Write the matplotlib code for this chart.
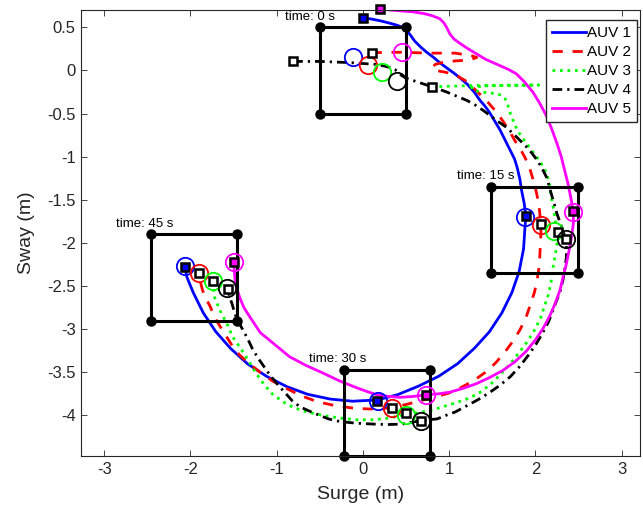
import numpy as np
import matplotlib
matplotlib.use("Agg")
import matplotlib.pyplot as plt
from matplotlib.ticker import FuncFormatter

plt.rcParams['font.family'] = ['Liberation Sans', 'DejaVu Sans']

names = ['AUV 1', 'AUV 2', 'AUV 3', 'AUV 4', 'AUV 5']
colors = ['#0000ff', '#ff0000', '#00ff00', '#000000', '#ff00ff']

# trajectories (m)
auv1_x = [0.00, 0.10, 0.20, 0.30, 0.39, 0.46, 0.51, 0.55, 0.60, 0.67, 0.74, 0.82, 0.89, 0.97, 1.04, 1.13,
          1.21, 1.29, 1.36, 1.42, 1.47, 1.53, 1.59, 1.65, 1.71, 1.76, 1.79, 1.82, 1.84, 1.87, 1.89,
          1.88, 1.863, 1.812, 1.728, 1.612, 1.467, 1.294, 1.098, 0.88, 0.645, 0.40, 0.17,
          -0.12, -0.38, -0.64, -0.885, -1.12, -1.34, -1.534, -1.707, -1.852, -1.968, -2.04, -2.065]
auv1_y = [0.61, 0.595, 0.575, 0.55, 0.525, 0.50, 0.46, 0.41, 0.34, 0.27, 0.21, 0.15, 0.09, 0.03, -0.02, -0.09,
          -0.16, -0.25, -0.35, -0.42, -0.49, -0.59, -0.69, -0.81, -0.93, -1.03, -1.13, -1.26, -1.39, -1.54, -1.69,
          -1.81, -2.07, -2.33, -2.575, -2.81, -3.03, -3.22, -3.40, -3.545, -3.66, -3.76, -3.82,
          -3.835, -3.81, -3.755, -3.665, -3.545, -3.40, -3.224, -3.028, -2.81, -2.575, -2.40, -2.28]

auv2_x = [0.10, 0.43, 0.78, 1.07, 1.26, 1.32, 1.24, 1.07, 0.92, 0.84, 0.80, 0.84, 0.95, 1.07, 1.19, 1.31,
          1.38, 1.45, 1.52, 1.59, 1.68, 1.76, 1.83, 1.88, 1.93, 1.96, 2.00, 2.03, 2.05, 2.06,
          2.065, 2.06, 2.055, 2.05, 2.04, 2.02, 1.99, 1.94, 1.89, 1.82, 1.74, 1.65, 1.54, 1.42, 1.28,
          1.13, 1.00, 0.86, 0.74, 0.63, 0.49, 0.34,
          0.20, 0.08, -0.04, -0.15, -0.33, -0.53, -0.72, -0.90, -1.05, -1.19, -1.32, -1.43, -1.51,
          -1.58, -1.63, -1.68, -1.73, -1.77, -1.82, -1.86, -1.885, -1.90]
auv2_y = [0.205, 0.21, 0.20, 0.20, 0.17, 0.15, 0.12, 0.11, 0.09, 0.07, 0.03, 0.00, -0.02, -0.05, -0.12, -0.23,
          -0.30, -0.37, -0.45, -0.54, -0.67, -0.81, -0.92, -1.01, -1.12, -1.22, -1.36, -1.50, -1.64, -1.78,
          -1.88, -1.97, -2.08, -2.18, -2.30, -2.43, -2.57, -2.72, -2.87, -3.01, -3.14, -3.26, -3.39, -3.50, -3.60,
          -3.68, -3.74, -3.78, -3.81, -3.84, -3.875, -3.91,
          -3.92, -3.925, -3.92, -3.91, -3.885, -3.84, -3.77, -3.68, -3.60, -3.50, -3.40, -3.30, -3.20,
          -3.09, -3.01, -2.93, -2.84, -2.74, -2.645, -2.55, -2.45, -2.35]

auv3_x = [0.80, 1.30, 2.04, 1.40, 1.26, 1.30, 1.36, 1.45, 1.55, 1.61, 1.65, 1.68, 1.71, 1.75, 1.79, 1.84,
          1.90, 1.96, 2.02, 2.08, 2.13, 2.16, 2.18, 2.21, 2.23, 2.26,
          2.255, 2.24, 2.22, 2.20, 2.18, 2.15, 2.11, 2.06, 1.99, 1.91, 1.82, 1.71, 1.59, 1.48, 1.36,
          1.27, 1.18, 1.02, 0.86, 0.74, 0.63, 0.495,
          0.40, 0.31, 0.12, -0.08, -0.27, -0.46, -0.65, -0.80, -0.93, -1.05, -1.14, -1.24, -1.33,
          -1.42, -1.51, -1.58, -1.66, -1.72, -1.74]
auv3_y = [-0.19, -0.175, -0.17, -0.18, -0.20, -0.235, -0.25, -0.26, -0.27, -0.29, -0.33, -0.40, -0.50, -0.60, -0.69, -0.77,
          -0.85, -0.93, -1.01, -1.10, -1.19, -1.30, -1.45, -1.60, -1.74, -1.875,
          -1.98, -2.08, -2.20, -2.31, -2.47, -2.60, -2.72, -2.87, -3.01, -3.14, -3.26, -3.40, -3.53, -3.64, -3.73,
          -3.78, -3.82, -3.87, -3.92, -3.95, -3.97, -3.99,
          -4.01, -4.03, -4.05, -4.05, -4.03, -4.00, -3.96, -3.91, -3.84, -3.75, -3.65, -3.51, -3.36,
          -3.22, -3.09, -2.93, -2.78, -2.63, -2.44]

auv4_x = [-0.81, -0.50, -0.15, 0.14, 0.25, 0.31, 0.37, 0.41, 0.45, 0.50, 0.62, 0.74, 0.86, 0.97, 1.09, 1.21,
          1.30, 1.39, 1.47, 1.55, 1.65, 1.74, 1.82, 1.90, 1.96, 2.02, 2.08, 2.13, 2.16, 2.19, 2.22, 2.25, 2.30, 2.35,
          2.36, 2.36, 2.35, 2.34, 2.32, 2.29, 2.25, 2.20, 2.15, 2.08, 2.01, 1.92, 1.82, 1.71, 1.59, 1.46,
          1.33, 1.20, 1.07, 0.96, 0.86, 0.76, 0.67,
          0.56, 0.46, 0.30, 0.12, -0.08, -0.27, -0.40, -0.50, -0.62, -0.73, -0.82, -0.90, -0.99, -1.08,
          -1.15, -1.22, -1.28, -1.33, -1.39, -1.46, -1.49, -1.52, -1.55, -1.57]
auv4_y = [0.104, 0.104, 0.09, 0.07, 0.05, 0.035, 0.01, -0.02, -0.06, -0.09, -0.13, -0.17, -0.21, -0.25, -0.30, -0.35,
          -0.40, -0.46, -0.52, -0.58, -0.65, -0.73, -0.81, -0.89, -0.96, -1.04, -1.14, -1.24, -1.34, -1.45, -1.55, -1.66,
          -1.80, -1.95,
          -2.05, -2.16, -2.24, -2.31, -2.43, -2.55, -2.66, -2.79, -2.92, -3.05, -3.17, -3.30, -3.43, -3.55, -3.65, -3.74,
          -3.82, -3.89, -3.96, -4.00, -4.04, -4.05, -4.06,
          -4.08, -4.10, -4.105, -4.10, -4.09, -4.07, -4.04, -4.00, -3.95, -3.90, -3.83, -3.74, -3.64, -3.53,
          -3.43, -3.33, -3.23, -3.125, -3.01, -2.89, -2.80, -2.70, -2.61, -2.53]

auv5_x = [0.20, 0.32, 0.43, 0.57, 0.70, 0.80, 0.89, 0.94, 0.97, 1.01, 1.06, 1.13, 1.22, 1.32, 1.42, 1.51,
          1.60, 1.69, 1.78, 1.87, 1.97, 2.05, 2.13, 2.19, 2.25, 2.30, 2.34, 2.38, 2.41, 2.44,
          2.44, 2.42, 2.39, 2.36, 2.32, 2.285, 2.23, 2.17, 2.09, 2.00, 1.89, 1.76, 1.62, 1.47, 1.32,
          1.18, 1.01, 0.87, 0.73,
          0.58, 0.43, 0.30, 0.16, 0.04, -0.07, -0.27, -0.46, -0.66, -0.85, -1.02, -1.19, -1.31,
          -1.38, -1.43, -1.465, -1.485, -1.50]
auv5_y = [0.714, 0.70, 0.69, 0.68, 0.66, 0.635, 0.60, 0.55, 0.50, 0.42, 0.36, 0.31, 0.25, 0.19, 0.13, 0.09,
          0.05, 0.01, -0.04, -0.13, -0.25, -0.38, -0.53, -0.68, -0.845, -1.00, -1.16, -1.32, -1.47, -1.635,
          -1.78, -1.93, -2.09, -2.24, -2.40, -2.55, -2.70, -2.84, -2.99, -3.125, -3.26, -3.38, -3.48, -3.56, -3.63,
          -3.68, -3.73, -3.75, -3.76,
          -3.78, -3.79, -3.78, -3.76, -3.72, -3.68, -3.60, -3.51, -3.42, -3.32, -3.18, -3.04, -2.86,
          -2.75, -2.63, -2.52, -2.41, -2.22]

traj_x = [auv1_x, auv2_x, auv3_x, auv4_x, auv5_x]
traj_y = [auv1_y, auv2_y, auv3_y, auv4_y, auv5_y]

# snapshots
times = [0, 15, 30, 45]
box_x0 = [-0.5, 1.49, -0.22, -2.46]
box_y0 = [-0.5, -2.35, -4.47, -2.90]
box_size = 1.0

# desired formation slots (circles), one row per snapshot
goal_x = [[-0.12, 0.055, 0.22, 0.39, 0.45],
          [1.88, 2.06, 2.22, 2.36, 2.44],
          [0.17, 0.34, 0.50, 0.67, 0.73],
          [-2.065, -1.90, -1.74, -1.58, -1.50]]
goal_y = [[0.15, 0.06, -0.02, -0.12, 0.21],
          [-1.70, -1.79, -1.86, -1.96, -1.64],
          [-3.83, -3.91, -3.99, -4.06, -3.76],
          [-2.27, -2.35, -2.44, -2.52, -2.22]]
# vehicle positions (squares)
pos_x = [[0.00, 0.10, 0.80, -0.81, 0.20],
         [1.89, 2.06, 2.26, 2.35, 2.44],
         [0.166, 0.34, 0.495, 0.67, 0.73],
         [-2.065, -1.90, -1.74, -1.57, -1.50]]
pos_y = [[0.61, 0.205, -0.19, 0.104, 0.714],
         [-1.69, -1.78, -1.875, -1.95, -1.635],
         [-3.83, -3.91, -3.97, -4.06, -3.76],
         [-2.28, -2.35, -2.44, -2.53, -2.22]]
square_face = ['#0000ff', 'white', 'white', 'white', '#ff00ff']

styles = [dict(linestyle='-'),
          dict(dashes=(3.7, 3.5)),
          dict(dashes=(1.0, 1.7)),
          dict(dashes=(3.5, 1.8, 0.8, 1.8)),
          dict(linestyle='-')]

fig = plt.figure(figsize=(6.43, 5.08), dpi=100)
ax = fig.add_axes([81.4/643, 52/508, 558.3/643, 446/508])

for i in range(5):
    ax.plot(traj_x[i], traj_y[i], color=colors[i], lw=2, label=names[i], **styles[i])

for k, t in enumerate(times):
    bx = [box_x0[k], box_x0[k] + box_size, box_x0[k] + box_size, box_x0[k], box_x0[k]]
    by = [box_y0[k], box_y0[k], box_y0[k] + box_size, box_y0[k] + box_size, box_y0[k]]
    ax.plot(bx, by, color='k', lw=2.2, clip_on=False)
    ax.plot(bx[:4], by[:4], 'o', color='k', ms=6.5, clip_on=False)
    ax.text(box_x0[k] - 0.40, box_y0[k] + box_size + 0.12, 'time: %d s' % t,
            fontsize=9.5, va='center', ha='left')
    for i in range(5):
        ax.plot(goal_x[k][i], goal_y[k][i], 'o', mfc='none', mec=colors[i], ms=12.5, mew=1.3, clip_on=False)
        ax.plot(pos_x[k][i], pos_y[k][i], 's', mfc=square_face[i], mec='k', ms=6, mew=1.8, clip_on=False)

ax.set_xlim(-3.265, 3.21)
ax.set_ylim(-4.47, 0.70)
ax.set_xticks(range(-3, 4))
ax.set_yticks(np.arange(-4, 0.51, 0.5))
fmt = FuncFormatter(lambda v, p: '%g' % round(v, 2))
ax.xaxis.set_major_formatter(fmt)
ax.yaxis.set_major_formatter(fmt)
ax.tick_params(direction='in', top=True, right=True, length=4, width=0.6,
               colors='0.15', labelsize=12, pad=4)
for s in ax.spines.values():
    s.set_color('0.15')
    s.set_linewidth(0.8)
ax.set_xlabel('Surge (m)', fontsize=14, color='0.15', labelpad=7)
ax.set_ylabel('Sway (m)', fontsize=14, color='0.15', labelpad=9)

ax.legend(loc='upper right', bbox_to_anchor=(0.9955, 0.9776), borderaxespad=0, fontsize=11,
          handlelength=2.2, handletextpad=0.1, labelspacing=0.33, fancybox=False,
          edgecolor='0.15', framealpha=1, borderpad=0.4)

fig.savefig('out.png', dpi=100)
